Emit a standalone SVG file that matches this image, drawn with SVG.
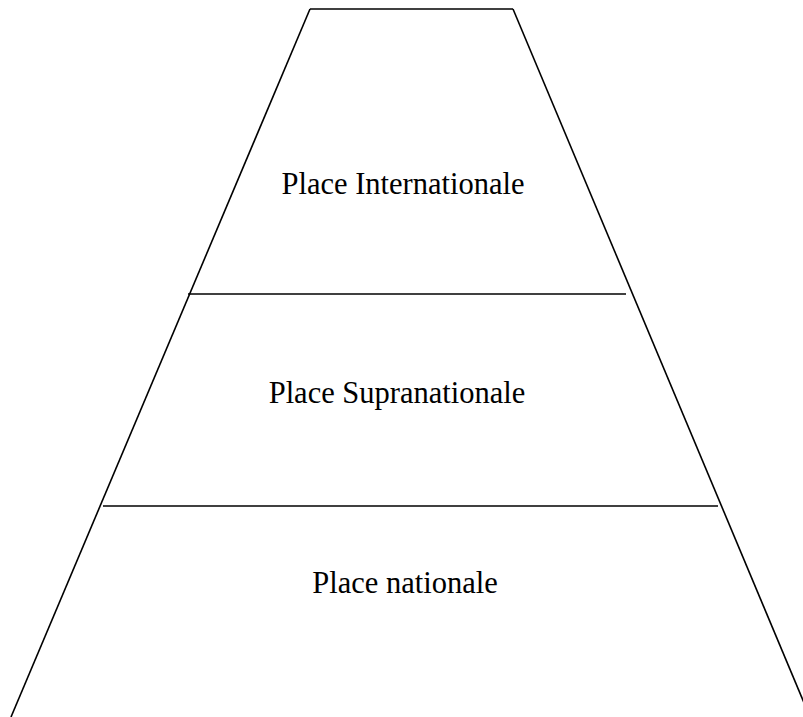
<svg xmlns="http://www.w3.org/2000/svg" width="803" height="717" viewBox="0 0 803 717">
<style>
.ln{stroke:#000;stroke-width:1.6;fill:none}
.lbl{font-family:"Liberation Serif","Times New Roman",serif;font-size:30.5px;fill:#000;text-anchor:middle}
</style>
<rect width="803" height="717" fill="#fff"/>
<g id="connectors">
<line class="ln" x1="310" y1="9" x2="513" y2="9"/>
<line class="ln" x1="310" y1="9" x2="11" y2="717"/>
<line class="ln" x1="513" y1="9" x2="810" y2="717"/>
<line class="ln" x1="188" y1="294" x2="626" y2="294"/>
<line class="ln" x1="103" y1="506" x2="718" y2="506"/>
</g>
<g id="level-international"><text class="lbl" x="403" y="194">Place Internationale</text></g>
<g id="level-supranational"><text class="lbl" x="397" y="403">Place Supranationale</text></g>
<g id="level-national"><text class="lbl" x="405" y="593">Place nationale</text></g>
</svg>
